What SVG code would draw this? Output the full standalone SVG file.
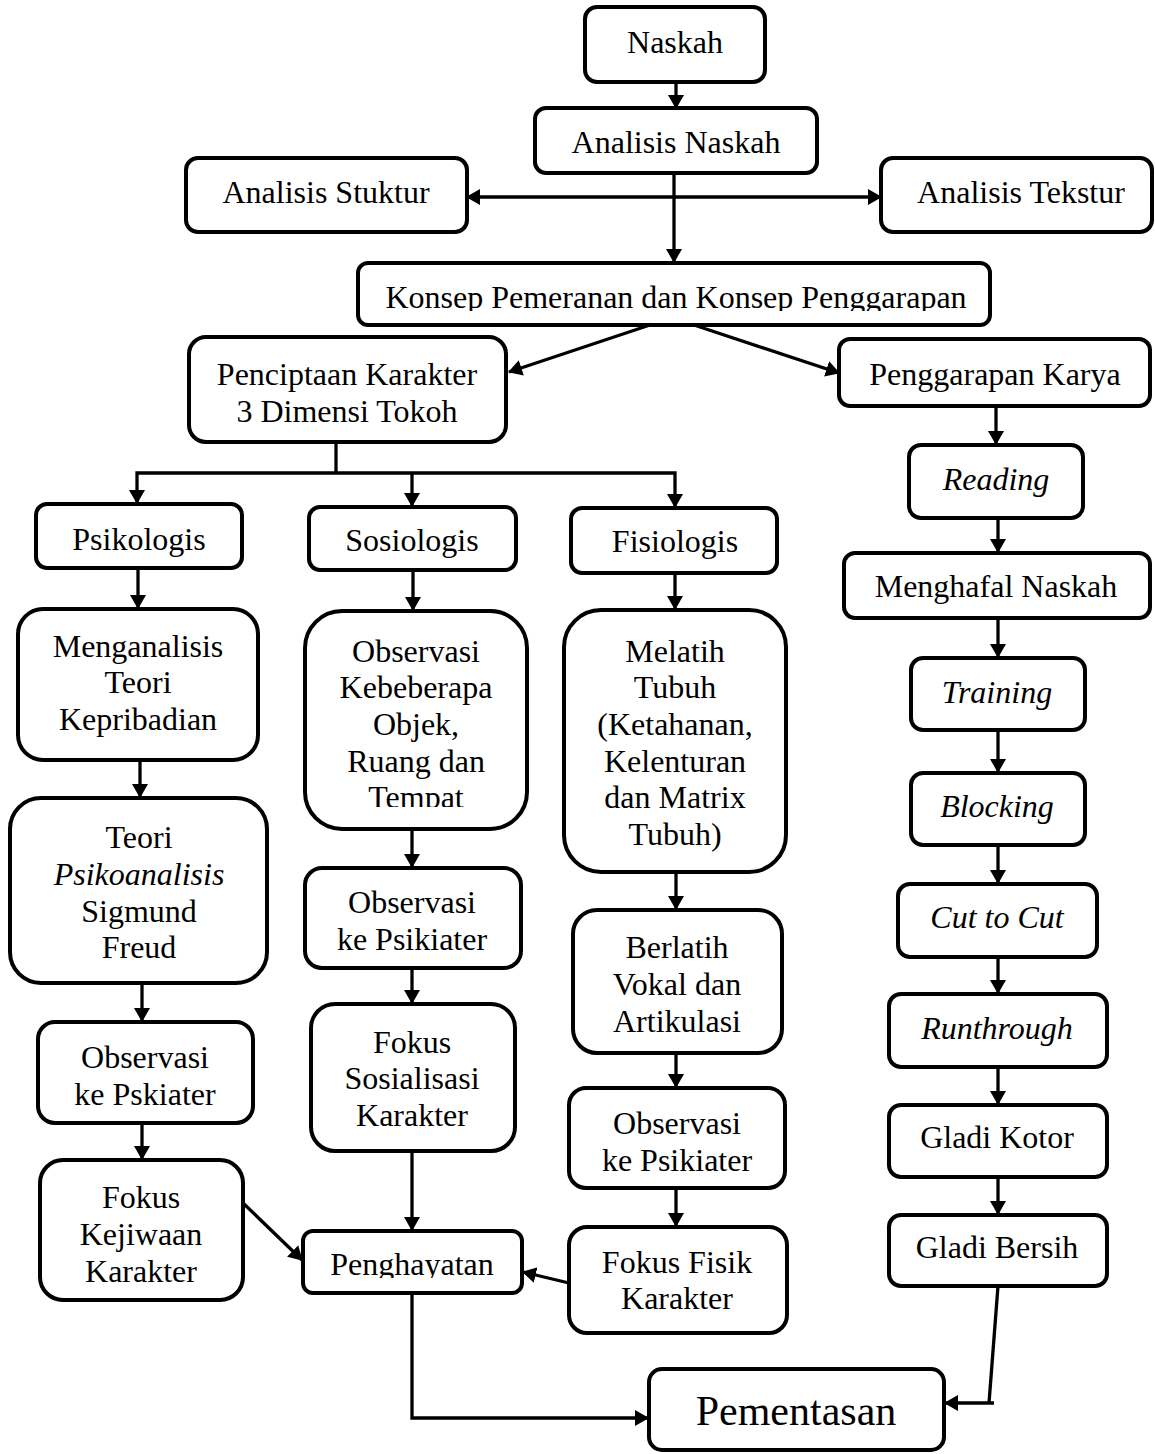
<svg xmlns="http://www.w3.org/2000/svg" width="1155" height="1454" viewBox="0 0 1155 1454">
<style>
.box{fill:#fff;stroke:#000;stroke-width:4}
.t{font-family:"Liberation Serif","Times New Roman",serif;font-size:32px;fill:#000;text-anchor:middle}
.i{font-style:italic}
.c{fill:none;stroke:#000;stroke-width:3.3}
.a{marker-end:url(#ah)}
</style>
<defs>
<marker id="ah" viewBox="0 0 14 16" refX="13" refY="8" markerWidth="14" markerHeight="16" markerUnits="userSpaceOnUse" orient="auto-start-reverse">
<path d="M0,0 L14,8 L0,16 z" fill="#000"/>
</marker>
<clipPath id="clipKonsep"><rect x="358" y="263" width="632" height="48"/></clipPath>
<clipPath id="clipTempat"><rect x="305" y="611" width="222" height="196"/></clipPath>
<clipPath id="clipPeng"><rect x="303" y="1231" width="219" height="47"/></clipPath>
</defs>
<rect width="1155" height="1454" fill="#fff"/>

<g id="connectors">
<line class="c a" x1="676" y1="82" x2="676" y2="108"/>
<line class="c" x1="674" y1="173" x2="674" y2="200"/>
<line class="c a" x1="674" y1="200" x2="674" y2="262"/>
<line class="c a" x1="560" y1="197" x2="467" y2="197"/>
<line class="c a" x1="560" y1="197" x2="881" y2="197"/>
<line class="c a" x1="650" y1="325" x2="509" y2="372"/>
<line class="c a" x1="694" y1="325" x2="839" y2="373"/>
<line class="c a" x1="996" y1="406" x2="996" y2="444"/>
<polyline class="c" points="336,442 336,473"/>
<polyline class="c a" points="336,473 137,473 137,503"/>
<line class="c a" x1="412" y1="473" x2="412" y2="506"/>
<polyline class="c a" points="336,473 675,473 675,507"/>
<line class="c a" x1="138" y1="568" x2="138" y2="608"/>
<line class="c a" x1="140" y1="760" x2="140" y2="797"/>
<line class="c a" x1="142" y1="983" x2="142" y2="1021"/>
<line class="c a" x1="142" y1="1123" x2="142" y2="1159"/>
<line class="c a" x1="413" y1="570" x2="413" y2="610"/>
<line class="c a" x1="412" y1="829" x2="412" y2="867"/>
<line class="c a" x1="412" y1="968" x2="412" y2="1003"/>
<line class="c a" x1="412" y1="1151" x2="412" y2="1230"/>
<line class="c a" x1="675" y1="573" x2="675" y2="609"/>
<line class="c a" x1="676" y1="872" x2="676" y2="909"/>
<line class="c a" x1="676" y1="1053" x2="676" y2="1087"/>
<line class="c a" x1="676" y1="1188" x2="676" y2="1226"/>
<line class="c a" x1="998" y1="518" x2="998" y2="552"/>
<line class="c a" x1="998" y1="618" x2="998" y2="657"/>
<line class="c a" x1="998" y1="730" x2="998" y2="772"/>
<line class="c a" x1="998" y1="845" x2="998" y2="883"/>
<line class="c a" x1="998" y1="957" x2="998" y2="993"/>
<line class="c a" x1="998" y1="1067" x2="998" y2="1104"/>
<line class="c a" x1="998" y1="1177" x2="998" y2="1214"/>
<line class="c a" x1="243" y1="1203" x2="302" y2="1260"/>
<line class="c a" x1="569" y1="1283" x2="523" y2="1272"/>
<polyline class="c a" points="412,1293 412,1418 648,1418"/>
<line class="c" x1="998" y1="1286" x2="989" y2="1403"/>
<line class="c a" x1="994" y1="1403" x2="945" y2="1403"/>
</g>

<g id="naskah"><rect class="box" x="585" y="7" width="180" height="75" rx="12"/><text class="t" x="675" y="53">Naskah</text></g>
<g id="analisis-naskah"><rect class="box" x="535" y="108" width="282" height="65" rx="11"/><text class="t" x="676" y="153">Analisis Naskah</text></g>
<g id="analisis-stuktur"><rect class="box" x="186" y="158" width="281" height="74" rx="12"/><text class="t" x="326" y="203">Analisis Stuktur</text></g>
<g id="analisis-tekstur"><rect class="box" x="881" y="158" width="271" height="74" rx="12"/><text class="t" x="1021" y="203">Analisis Tekstur</text></g>
<g id="konsep"><rect class="box" x="358" y="263" width="632" height="62" rx="10"/><text class="t" x="676" y="308" clip-path="url(#clipKonsep)">Konsep Pemeranan dan Konsep Penggarapan</text></g>
<g id="penciptaan"><rect class="box" x="189" y="337" width="317" height="105" rx="17"/><text class="t" x="347" y="385">Penciptaan Karakter</text><text class="t" x="347" y="422">3 Dimensi Tokoh</text></g>
<g id="penggarapan-karya"><rect class="box" x="839" y="339" width="311" height="67" rx="11"/><text class="t" x="995" y="385">Penggarapan Karya</text></g>

<g id="psikologis"><rect class="box" x="36" y="504" width="206" height="64" rx="11"/><text class="t" x="139" y="550">Psikologis</text></g>
<g id="sosiologis"><rect class="box" x="309" y="507" width="207" height="63" rx="11"/><text class="t" x="412" y="551">Sosiologis</text></g>
<g id="fisiologis"><rect class="box" x="571" y="508" width="206" height="65" rx="11"/><text class="t" x="675" y="552">Fisiologis</text></g>

<g id="menganalisis"><rect class="box" x="18" y="609" width="240" height="151" rx="25"/><text class="t" x="138" y="657">Menganalisis</text><text class="t" x="138" y="693">Teori</text><text class="t" x="138" y="730">Kepribadian</text></g>
<g id="teori"><rect class="box" x="10" y="798" width="257" height="185" rx="31"/><text class="t" x="139" y="848">Teori</text><text class="t i" x="139" y="885">Psikoanalisis</text><text class="t" x="139" y="922">Sigmund</text><text class="t" x="139" y="958">Freud</text></g>
<g id="observasi-pskiater"><rect class="box" x="38" y="1022" width="215" height="101" rx="17"/><text class="t" x="145" y="1068">Observasi</text><text class="t" x="145" y="1105">ke Pskiater</text></g>
<g id="fokus-kejiwaan"><rect class="box" x="40" y="1160" width="203" height="140" rx="23"/><text class="t" x="141" y="1208">Fokus</text><text class="t" x="141" y="1245">Kejiwaan</text><text class="t" x="141" y="1282">Karakter</text></g>

<g id="observasi-objek"><rect class="box" x="305" y="611" width="222" height="218" rx="37"/><g clip-path="url(#clipTempat)"><text class="t" x="416" y="662">Observasi</text><text class="t" x="416" y="698">Kebeberapa</text><text class="t" x="416" y="735">Objek,</text><text class="t" x="416" y="772">Ruang dan</text><text class="t" x="416" y="808">Tempat</text></g></g>
<g id="observasi-psikiater-sos"><rect class="box" x="305" y="868" width="216" height="100" rx="17"/><text class="t" x="412" y="913">Observasi</text><text class="t" x="412" y="950">ke Psikiater</text></g>
<g id="fokus-sosialisasi"><rect class="box" x="311" y="1004" width="204" height="147" rx="24"/><text class="t" x="412" y="1053">Fokus</text><text class="t" x="412" y="1089">Sosialisasi</text><text class="t" x="412" y="1126">Karakter</text></g>
<g id="penghayatan"><rect class="box" x="303" y="1231" width="219" height="62" rx="10"/><text class="t" x="412" y="1275" clip-path="url(#clipPeng)">Penghayatan</text></g>

<g id="melatih"><rect class="box" x="564" y="610" width="222" height="262" rx="37"/><text class="t" x="675" y="662">Melatih</text><text class="t" x="675" y="698">Tubuh</text><text class="t" x="675" y="735">(Ketahanan,</text><text class="t" x="675" y="772">Kelenturan</text><text class="t" x="675" y="808">dan Matrix</text><text class="t" x="675" y="845">Tubuh)</text></g>
<g id="berlatih"><rect class="box" x="573" y="910" width="209" height="143" rx="24"/><text class="t" x="677" y="958">Berlatih</text><text class="t" x="677" y="995">Vokal dan</text><text class="t" x="677" y="1032">Artikulasi</text></g>
<g id="observasi-psikiater-fis"><rect class="box" x="569" y="1088" width="216" height="100" rx="17"/><text class="t" x="677" y="1134">Observasi</text><text class="t" x="677" y="1171">ke Psikiater</text></g>
<g id="fokus-fisik"><rect class="box" x="569" y="1227" width="218" height="106" rx="18"/><text class="t" x="677" y="1273">Fokus Fisik</text><text class="t" x="677" y="1309">Karakter</text></g>

<g id="reading"><rect class="box" x="909" y="445" width="174" height="73" rx="12"/><text class="t i" x="996" y="490">Reading</text></g>
<g id="menghafal"><rect class="box" x="844" y="553" width="306" height="65" rx="11"/><text class="t" x="996" y="597">Menghafal Naskah</text></g>
<g id="training"><rect class="box" x="911" y="658" width="174" height="72" rx="12"/><text class="t i" x="997" y="703">Training</text></g>
<g id="blocking"><rect class="box" x="911" y="773" width="174" height="72" rx="12"/><text class="t i" x="997" y="817">Blocking</text></g>
<g id="cut-to-cut"><rect class="box" x="898" y="884" width="199" height="73" rx="12"/><text class="t i" x="997" y="928">Cut to Cut</text></g>
<g id="runthrough"><rect class="box" x="889" y="994" width="218" height="73" rx="12"/><text class="t i" x="997" y="1039">Runthrough</text></g>
<g id="gladi-kotor"><rect class="box" x="889" y="1105" width="218" height="72" rx="12"/><text class="t" x="997" y="1148">Gladi Kotor</text></g>
<g id="gladi-bersih"><rect class="box" x="889" y="1215" width="218" height="71" rx="12"/><text class="t" x="997" y="1258">Gladi Bersih</text></g>

<g id="pementasan"><rect class="box" x="649" y="1369" width="295" height="81" rx="13"/><text class="t" x="796" y="1425" style="font-size:42px">Pementasan</text></g>
</svg>
